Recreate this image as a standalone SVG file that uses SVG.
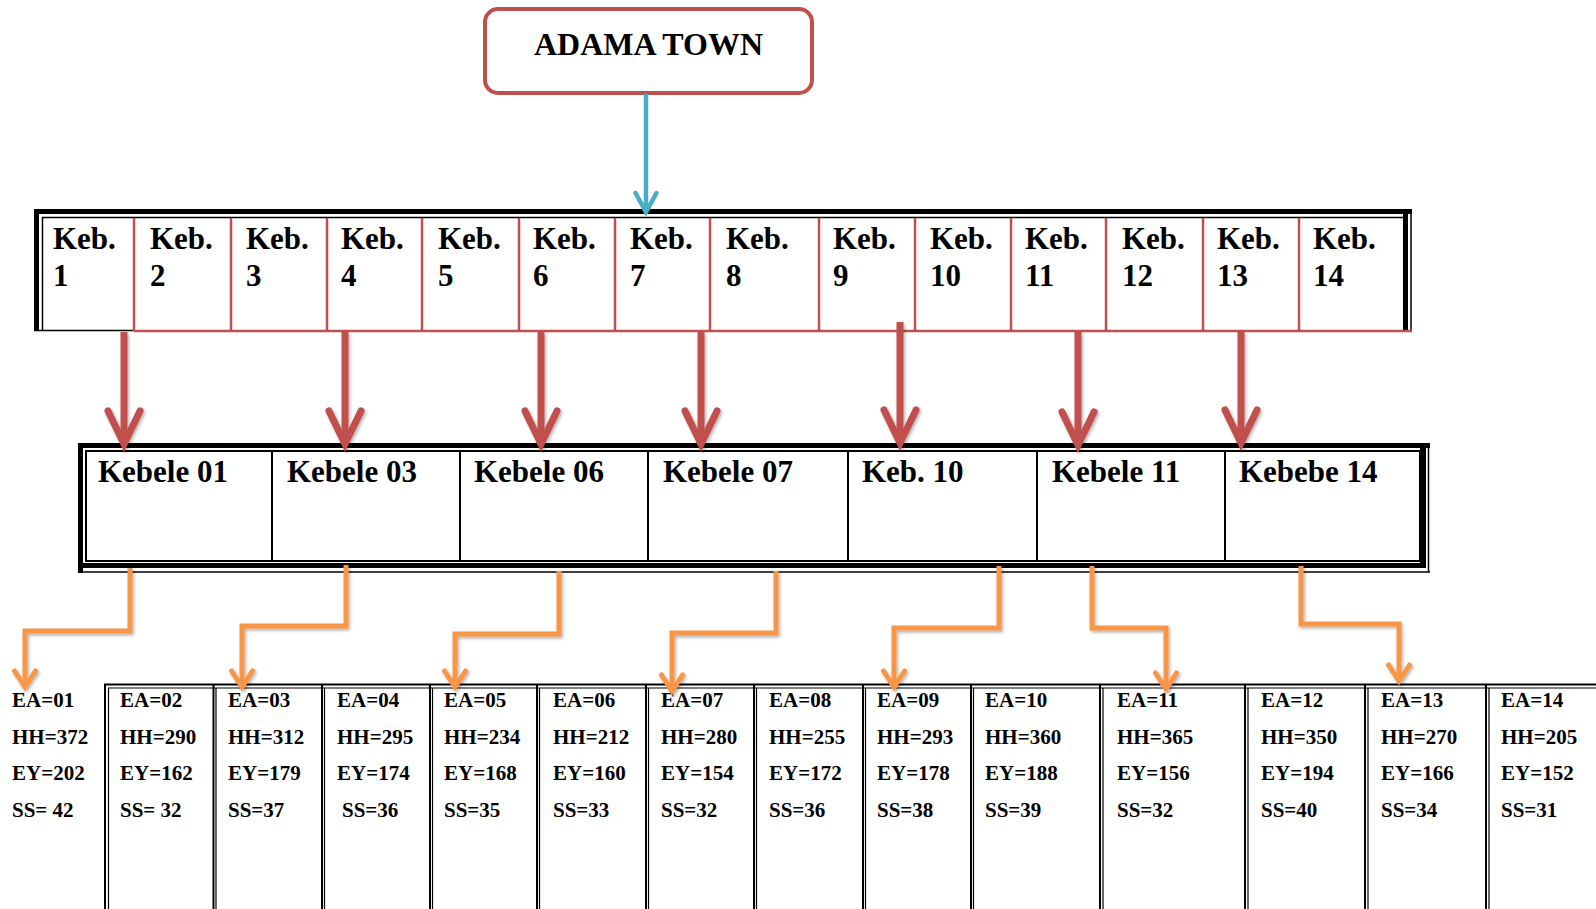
<svg xmlns="http://www.w3.org/2000/svg" width="1596" height="909" viewBox="0 0 1596 909">
<style>
  .t { font-family: "Liberation Serif", "Times New Roman", serif; font-weight: bold; fill: #000; }
  .big { font-size: 31px; }
  .title { font-size: 32px; }
  .small { font-size: 21px; }
  .blk { fill: #000; }
  .thin { stroke: #000; stroke-width: 1.5; fill: none; }
  .redl { stroke: #c0504d; stroke-width: 2.5; fill: none; }
  .col { stroke: #000; fill: none; }
  .redarrow { stroke: #c0504d; stroke-width: 7; fill: none; marker-end: url(#mRed); filter: url(#sh); }
  .orarrow { stroke: #f79646; stroke-width: 5; fill: none; stroke-linejoin: miter; marker-end: url(#mOr); filter: url(#sh); }
  .bluearrow { stroke: #4bacc6; stroke-width: 4.5; fill: none; marker-end: url(#mBlue); }
</style>
<defs>
  <filter id="sh" filterUnits="userSpaceOnUse" x="0" y="0" width="1596" height="909">
    <feDropShadow dx="1.5" dy="2" stdDeviation="1.5" flood-color="#000" flood-opacity="0.3"/>
  </filter>
  <marker id="mRed" markerUnits="userSpaceOnUse" viewBox="-40 -22 46 44" refX="0" refY="0" markerWidth="46" markerHeight="44" orient="auto" overflow="visible">
    <path d="M-33,-16 L0,0 L-33,16" fill="none" stroke="#c0504d" stroke-width="7" stroke-linecap="round" stroke-linejoin="miter"/>
  </marker>
  <marker id="mOr" markerUnits="userSpaceOnUse" viewBox="-22 -14 26 28" refX="0" refY="0" markerWidth="26" markerHeight="28" orient="auto" overflow="visible">
    <path d="M-16,-10.5 L0,0 L-16,10.5" fill="none" stroke="#f79646" stroke-width="5" stroke-linecap="round" stroke-linejoin="miter"/>
  </marker>
  <marker id="mBlue" markerUnits="userSpaceOnUse" viewBox="-24 -14 28 28" refX="0" refY="0" markerWidth="28" markerHeight="28" orient="auto" overflow="visible">
    <path d="M-19,-10.5 L0,0 L-19,10.5" fill="none" stroke="#4bacc6" stroke-width="4.5" stroke-linecap="round" stroke-linejoin="miter"/>
  </marker>
</defs>

<rect width="1596" height="909" fill="#fff"/>

<!-- ADAMA TOWN -->
<g id="adama">
  <rect x="485" y="9" width="327" height="84" rx="13" ry="13" fill="#fff" stroke="#c0504d" stroke-width="4"/>
  <text class="t title" x="648.5" y="55" text-anchor="middle">ADAMA TOWN</text>
</g>

<!-- Keb row -->
<g id="keb-row">
  <rect class="blk" x="34" y="209" width="1378" height="5"/>
  <rect class="blk" x="34" y="209" width="5" height="122"/>
  <line class="thin" x1="42" y1="217.5" x2="1403" y2="217.5"/>
  <line class="thin" x1="42.5" y1="217" x2="42.5" y2="330"/>
  <line class="thin" x1="34" y1="330.5" x2="134" y2="330.5"/>
  <rect class="blk" x="1403" y="214" width="5" height="116"/>
  <line class="thin" x1="1411" y1="209" x2="1411" y2="330"/>
  <g class="redl">
    <line x1="134" y1="218" x2="134" y2="331"/>
    <line x1="231" y1="218" x2="231" y2="331"/>
    <line x1="327" y1="218" x2="327" y2="331"/>
    <line x1="422" y1="218" x2="422" y2="331"/>
    <line x1="519" y1="218" x2="519" y2="331"/>
    <line x1="615" y1="218" x2="615" y2="331"/>
    <line x1="710" y1="218" x2="710" y2="331"/>
    <line x1="819" y1="218" x2="819" y2="331"/>
    <line x1="915" y1="218" x2="915" y2="331"/>
    <line x1="1011" y1="218" x2="1011" y2="331"/>
    <line x1="1106" y1="218" x2="1106" y2="331"/>
    <line x1="1203" y1="218" x2="1203" y2="331"/>
    <line x1="1299" y1="218" x2="1299" y2="331"/>
    <line x1="134" y1="331" x2="1412" y2="331"/>
  </g>
  <g id="keb1"><text class="t big" x="53" y="249">Keb.</text><text class="t big" x="53" y="286">1</text></g>
  <g id="keb2"><text class="t big" x="150" y="249">Keb.</text><text class="t big" x="150" y="286">2</text></g>
  <g id="keb3"><text class="t big" x="246" y="249">Keb.</text><text class="t big" x="246" y="286">3</text></g>
  <g id="keb4"><text class="t big" x="341" y="249">Keb.</text><text class="t big" x="341" y="286">4</text></g>
  <g id="keb5"><text class="t big" x="438" y="249">Keb.</text><text class="t big" x="438" y="286">5</text></g>
  <g id="keb6"><text class="t big" x="533" y="249">Keb.</text><text class="t big" x="533" y="286">6</text></g>
  <g id="keb7"><text class="t big" x="630" y="249">Keb.</text><text class="t big" x="630" y="286">7</text></g>
  <g id="keb8"><text class="t big" x="726" y="249">Keb.</text><text class="t big" x="726" y="286">8</text></g>
  <g id="keb9"><text class="t big" x="833" y="249">Keb.</text><text class="t big" x="833" y="286">9</text></g>
  <g id="keb10"><text class="t big" x="930" y="249">Keb.</text><text class="t big" x="930" y="286">10</text></g>
  <g id="keb11"><text class="t big" x="1025" y="249">Keb.</text><text class="t big" x="1025" y="286">11</text></g>
  <g id="keb12"><text class="t big" x="1122" y="249">Keb.</text><text class="t big" x="1122" y="286">12</text></g>
  <g id="keb13"><text class="t big" x="1217" y="249">Keb.</text><text class="t big" x="1217" y="286">13</text></g>
  <g id="keb14"><text class="t big" x="1313" y="249">Keb.</text><text class="t big" x="1313" y="286">14</text></g>
</g>

<!-- Kebele row -->
<g id="kebele-row">
  <rect class="blk" x="78" y="443" width="1352" height="5"/>
  <rect class="blk" x="78" y="443" width="5" height="130"/>
  <rect x="86" y="451" width="1334" height="110" fill="none" stroke="#000" stroke-width="2"/>
  <rect class="blk" x="78" y="563" width="1348" height="5"/>
  <rect class="blk" x="1420" y="448" width="6" height="120"/>
  <line class="thin" x1="1428.5" y1="448" x2="1428.5" y2="572"/>
  <line class="thin" x1="78" y1="572" x2="1430" y2="572"/>
  <g stroke="#000" stroke-width="2">
    <line x1="272" y1="451" x2="272" y2="562"/>
    <line x1="460" y1="451" x2="460" y2="562"/>
    <line x1="648" y1="451" x2="648" y2="562"/>
    <line x1="848" y1="451" x2="848" y2="562"/>
    <line x1="1037" y1="451" x2="1037" y2="562"/>
    <line x1="1225" y1="451" x2="1225" y2="562"/>
  </g>
  <g id="kebele01"><text class="t big" x="98" y="482">Kebele 01</text></g>
  <g id="kebele03"><text class="t big" x="287" y="482">Kebele 03</text></g>
  <g id="kebele06"><text class="t big" x="474" y="482">Kebele 06</text></g>
  <g id="kebele07"><text class="t big" x="663" y="482">Kebele 07</text></g>
  <g id="keb10b"><text class="t big" x="862" y="482">Keb. 10</text></g>
  <g id="kebele11"><text class="t big" x="1052" y="482">Kebele 11</text></g>
  <g id="kebebe14"><text class="t big" x="1239" y="482">Kebebe 14</text></g>
</g>

<!-- EA table -->
<g id="ea-table">
  <line x1="104" y1="684.5" x2="1596" y2="684.5" stroke="#000" stroke-width="2"/>
  <line x1="108" y1="688" x2="1596" y2="688" stroke="#000" stroke-width="1.2"/>
  <g class="col">
    <g stroke-width="2">
      <line x1="105" y1="684" x2="105" y2="909"/>
      <line x1="213.5" y1="684" x2="213.5" y2="909"/>
      <line x1="322" y1="684" x2="322" y2="909"/>
      <line x1="430" y1="684" x2="430" y2="909"/>
      <line x1="537" y1="684" x2="537" y2="909"/>
      <line x1="646" y1="684" x2="646" y2="909"/>
      <line x1="754" y1="684" x2="754" y2="909"/>
      <line x1="863" y1="684" x2="863" y2="909"/>
      <line x1="971" y1="684" x2="971" y2="909"/>
      <line x1="1100" y1="684" x2="1100" y2="909"/>
      <line x1="1245" y1="684" x2="1245" y2="909"/>
      <line x1="1365" y1="684" x2="1365" y2="909"/>
      <line x1="1486" y1="684" x2="1486" y2="909"/>
    </g>
    <g stroke-width="1.2">
      <line x1="108.5" y1="688" x2="108.5" y2="909"/>
      <line x1="216" y1="688" x2="216" y2="909"/>
      <line x1="324.5" y1="688" x2="324.5" y2="909"/>
      <line x1="432.5" y1="688" x2="432.5" y2="909"/>
      <line x1="539.5" y1="688" x2="539.5" y2="909"/>
      <line x1="648.5" y1="688" x2="648.5" y2="909"/>
      <line x1="756.5" y1="688" x2="756.5" y2="909"/>
      <line x1="865.5" y1="688" x2="865.5" y2="909"/>
      <line x1="973.5" y1="688" x2="973.5" y2="909"/>
      <line x1="1103" y1="688" x2="1103" y2="909"/>
      <line x1="1248" y1="688" x2="1248" y2="909"/>
      <line x1="1368" y1="688" x2="1368" y2="909"/>
      <line x1="1489" y1="688" x2="1489" y2="909"/>
    </g>
  </g>
  <g id="ea01" class="t small"><text x="12" y="707">EA=01</text><text x="12" y="744">HH=372</text><text x="12" y="780">EY=202</text><text x="12" y="817">SS= 42</text></g>
  <g id="ea02" class="t small"><text x="120" y="707">EA=02</text><text x="120" y="744">HH=290</text><text x="120" y="780">EY=162</text><text x="120" y="817">SS= 32</text></g>
  <g id="ea03" class="t small"><text x="228" y="707">EA=03</text><text x="228" y="744">HH=312</text><text x="228" y="780">EY=179</text><text x="228" y="817">SS=37</text></g>
  <g id="ea04" class="t small"><text x="337" y="707">EA=04</text><text x="337" y="744">HH=295</text><text x="337" y="780">EY=174</text><text x="342" y="817">SS=36</text></g>
  <g id="ea05" class="t small"><text x="444" y="707">EA=05</text><text x="444" y="744">HH=234</text><text x="444" y="780">EY=168</text><text x="444" y="817">SS=35</text></g>
  <g id="ea06" class="t small"><text x="553" y="707">EA=06</text><text x="553" y="744">HH=212</text><text x="553" y="780">EY=160</text><text x="553" y="817">SS=33</text></g>
  <g id="ea07" class="t small"><text x="661" y="707">EA=07</text><text x="661" y="744">HH=280</text><text x="661" y="780">EY=154</text><text x="661" y="817">SS=32</text></g>
  <g id="ea08" class="t small"><text x="769" y="707">EA=08</text><text x="769" y="744">HH=255</text><text x="769" y="780">EY=172</text><text x="769" y="817">SS=36</text></g>
  <g id="ea09" class="t small"><text x="877" y="707">EA=09</text><text x="877" y="744">HH=293</text><text x="877" y="780">EY=178</text><text x="877" y="817">SS=38</text></g>
  <g id="ea10" class="t small"><text x="985" y="707">EA=10</text><text x="985" y="744">HH=360</text><text x="985" y="780">EY=188</text><text x="985" y="817">SS=39</text></g>
  <g id="ea11" class="t small"><text x="1117" y="707">EA=11</text><text x="1117" y="744">HH=365</text><text x="1117" y="780">EY=156</text><text x="1117" y="817">SS=32</text></g>
  <g id="ea12" class="t small"><text x="1261" y="707">EA=12</text><text x="1261" y="744">HH=350</text><text x="1261" y="780">EY=194</text><text x="1261" y="817">SS=40</text></g>
  <g id="ea13" class="t small"><text x="1381" y="707">EA=13</text><text x="1381" y="744">HH=270</text><text x="1381" y="780">EY=166</text><text x="1381" y="817">SS=34</text></g>
  <g id="ea14" class="t small"><text x="1501" y="707">EA=14</text><text x="1501" y="744">HH=205</text><text x="1501" y="780">EY=152</text><text x="1501" y="817">SS=31</text></g>
</g>

<!-- Connectors -->
<g id="connectors">
  <path class="bluearrow" d="M646,94 V212"/>
  <path class="redarrow" d="M124,332 V444"/>
  <path class="redarrow" d="M345,332 V444"/>
  <path class="redarrow" d="M541,332 V444"/>
  <path class="redarrow" d="M701,332 V444"/>
  <path class="redarrow" d="M900,322 V443"/>
  <path class="redarrow" d="M1078,332 V445"/>
  <path class="redarrow" d="M1241,332 V443"/>
  <path class="orarrow" d="M130,568 V631 H25 V687"/>
  <path class="orarrow" d="M346,565 V626 H242 V687"/>
  <path class="orarrow" d="M559,571 V634 H455 V687"/>
  <path class="orarrow" d="M776,571 V633 H672 V691"/>
  <path class="orarrow" d="M999,566 V628 H894 V687"/>
  <path class="orarrow" d="M1092,566 V628 H1166 V689"/>
  <path class="orarrow" d="M1301,566 V624 H1399 V681"/>
</g>
</svg>
